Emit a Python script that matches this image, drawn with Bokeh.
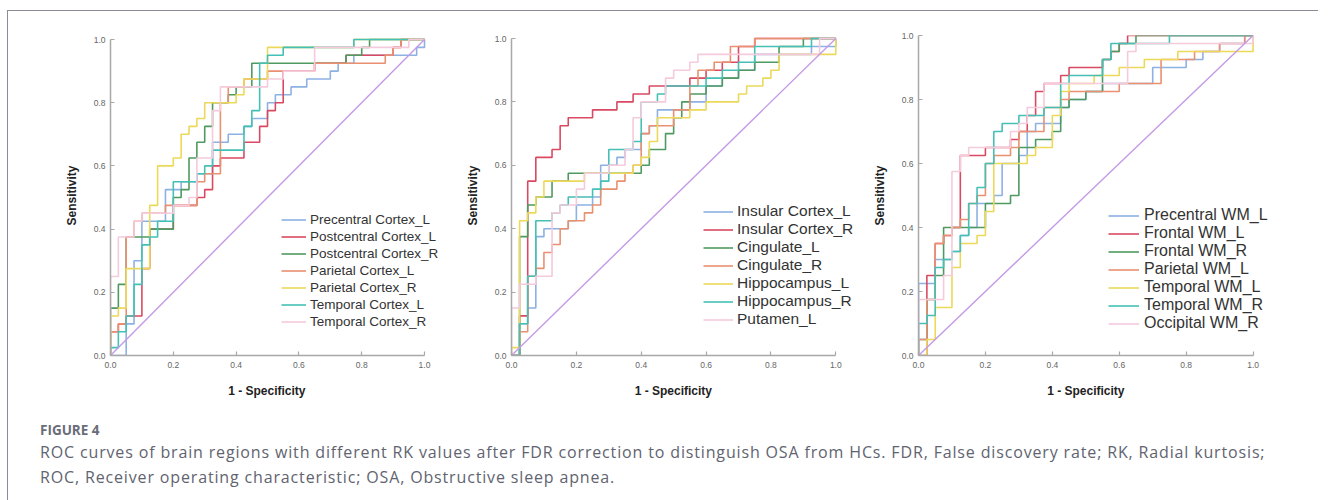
from bokeh.plotting import figure
from bokeh.models import Range1d, Legend, LegendItem, Div, PrintfTickFormatter
from bokeh.layouts import row, column
from bokeh.embed import file_html
from bokeh.resources import INLINE

# ---------------- data ----------------
TICKS = [0.0, 0.2, 0.4, 0.6, 0.8, 1.0]
COLORS = ["#8db1e3", "#d94a62", "#4f9a60", "#e99070", "#ecd95a", "#45c0b4", "#f5cadc"]
DIAG_COLOR = "#c49ae6"

# Panel 1: cortex regions
P1_NAMES = ["Precentral Cortex_L", "Postcentral Cortex_L", "Postcentral Cortex_R",
            "Parietal Cortex_L", "Parietal Cortex_R", "Temporal Cortex_L", "Temporal Cortex_R"]
P1_PRE_L_FPR = [0, 0.05, 0.075, 0.1, 0.175, 0.225, 0.275, 0.325, 0.375, 0.425, 0.45, 0.5, 0.525, 0.575, 0.625, 0.7, 0.725, 0.775, 0.975, 1.0]
P1_PRE_L_TPR = [0, 0.1, 0.3, 0.425, 0.525, 0.55, 0.575, 0.675, 0.7, 0.725, 0.75, 0.8, 0.825, 0.85, 0.875, 0.9, 0.925, 0.95, 0.975, 1.0]
P1_POST_L_FPR = [0, 0.025, 0.05, 0.1, 0.125, 0.2, 0.275, 0.3, 0.325, 0.35, 0.425, 0.475, 0.5, 0.525, 0.55, 0.65, 0.75, 0.9, 0.925, 1.0]
P1_POST_L_TPR = [0.075, 0.1, 0.125, 0.275, 0.4, 0.475, 0.5, 0.525, 0.6, 0.625, 0.675, 0.725, 0.775, 0.8, 0.9, 0.925, 0.95, 0.975, 1.0, 1.0]
P1_POST_R_FPR = [0, 0.025, 0.05, 0.125, 0.2, 0.225, 0.25, 0.275, 0.3, 0.325, 0.375, 0.4, 0.45, 0.75, 0.8, 0.825, 1.0]
P1_POST_R_TPR = [0.15, 0.225, 0.375, 0.4, 0.5, 0.525, 0.625, 0.675, 0.725, 0.8, 0.825, 0.85, 0.925, 0.95, 0.975, 1.0, 1.0]
P1_PAR_L_FPR = [0, 0.025, 0.05, 0.075, 0.1, 0.175, 0.275, 0.3, 0.35, 0.375, 0.425, 0.5, 0.65, 0.875, 0.9, 0.925, 1.0]
P1_PAR_L_TPR = [0.075, 0.1, 0.375, 0.425, 0.45, 0.475, 0.55, 0.575, 0.8, 0.85, 0.875, 0.9, 0.925, 0.95, 0.975, 1.0, 1.0]
P1_PAR_R_FPR = [0, 0.025, 0.05, 0.125, 0.15, 0.2, 0.225, 0.25, 0.275, 0.3, 0.4, 0.425, 0.5, 0.775, 1.0]
P1_PAR_R_TPR = [0.125, 0.15, 0.275, 0.475, 0.6, 0.625, 0.7, 0.725, 0.75, 0.8, 0.825, 0.875, 0.975, 1.0, 1.0]
P1_TEMP_L_FPR = [0, 0.025, 0.05, 0.075, 0.1, 0.125, 0.15, 0.2, 0.275, 0.3, 0.325, 0.425, 0.45, 0.475, 0.5, 0.55, 0.775, 1.0]
P1_TEMP_L_TPR = [0.025, 0.075, 0.125, 0.225, 0.35, 0.375, 0.425, 0.55, 0.575, 0.6, 0.65, 0.725, 0.775, 0.925, 0.95, 0.975, 1.0, 1.0]
P1_TEMP_R_FPR = [0, 0.025, 0.075, 0.1, 0.2, 0.25, 0.275, 0.325, 0.35, 0.5, 0.55, 0.65, 0.95, 1.0]
P1_TEMP_R_TPR = [0.25, 0.375, 0.425, 0.45, 0.475, 0.5, 0.625, 0.775, 0.85, 0.875, 0.9, 0.975, 1.0, 1.0]

# Panel 2: deep / limbic regions
P2_NAMES = ["Insular Cortex_L", "Insular Cortex_R", "Cingulate_L", "Cingulate_R",
            "Hippocampus_L", "Hippocampus_R", "Putamen_L"]
P2_INS_L_FPR = [0, 0.025, 0.05, 0.075, 0.1, 0.175, 0.2, 0.25, 0.275, 0.325, 0.35, 0.4, 0.425, 0.45, 0.55, 0.6, 0.65, 0.7, 0.75, 0.925, 1.0]
P2_INS_L_TPR = [0, 0.1, 0.15, 0.375, 0.4, 0.425, 0.475, 0.5, 0.6, 0.625, 0.65, 0.7, 0.725, 0.775, 0.8, 0.85, 0.875, 0.9, 0.95, 0.975, 1.0]
P2_INS_R_FPR = [0, 0.025, 0.05, 0.075, 0.125, 0.15, 0.175, 0.25, 0.325, 0.375, 0.425, 0.55, 0.6, 0.65, 0.7, 0.75, 1.0]
P2_INS_R_TPR = [0, 0.125, 0.55, 0.625, 0.65, 0.725, 0.75, 0.775, 0.8, 0.825, 0.85, 0.875, 0.9, 0.925, 0.975, 1.0, 1.0]
P2_CING_L_FPR = [0, 0.025, 0.05, 0.075, 0.125, 0.175, 0.4, 0.425, 0.475, 0.5, 0.525, 0.55, 0.6, 0.65, 0.7, 0.75, 0.825, 0.9, 1.0]
P2_CING_L_TPR = [0, 0.375, 0.475, 0.5, 0.55, 0.575, 0.6, 0.65, 0.7, 0.75, 0.8, 0.825, 0.85, 0.875, 0.9, 0.925, 0.975, 1.0, 1.0]
P2_CING_R_FPR = [0, 0.025, 0.05, 0.075, 0.1, 0.125, 0.15, 0.175, 0.225, 0.25, 0.275, 0.325, 0.35, 0.375, 0.4, 0.425, 0.5, 0.55, 0.575, 0.625, 0.675, 0.75, 1.0]
P2_CING_R_TPR = [0, 0.075, 0.25, 0.275, 0.325, 0.35, 0.4, 0.425, 0.45, 0.475, 0.525, 0.55, 0.575, 0.6, 0.7, 0.725, 0.775, 0.85, 0.9, 0.925, 0.975, 1.0, 1.0]
P2_HIP_L_FPR = [0, 0.025, 0.05, 0.075, 0.1, 0.225, 0.375, 0.4, 0.425, 0.45, 0.55, 0.6, 0.7, 0.725, 0.775, 0.8, 0.825, 1.0]
P2_HIP_L_TPR = [0.025, 0.425, 0.45, 0.5, 0.55, 0.575, 0.6, 0.625, 0.675, 0.75, 0.775, 0.8, 0.825, 0.85, 0.875, 0.9, 0.95, 1.0]
P2_HIP_R_FPR = [0, 0.025, 0.05, 0.075, 0.125, 0.15, 0.175, 0.25, 0.275, 0.3, 0.375, 0.4, 0.45, 0.475, 0.6, 0.65, 0.7, 0.75, 0.925, 1.0]
P2_HIP_R_TPR = [0, 0.1, 0.25, 0.425, 0.45, 0.475, 0.5, 0.525, 0.55, 0.65, 0.675, 0.8, 0.825, 0.85, 0.875, 0.9, 0.925, 0.975, 1.0, 1.0]
P2_PUT_L_FPR = [0, 0.025, 0.075, 0.125, 0.15, 0.2, 0.225, 0.3, 0.35, 0.375, 0.4, 0.475, 0.5, 0.55, 0.575, 0.95, 1.0]
P2_PUT_L_TPR = [0.15, 0.225, 0.25, 0.45, 0.475, 0.525, 0.575, 0.6, 0.65, 0.75, 0.8, 0.875, 0.9, 0.925, 0.95, 1.0, 1.0]

# Panel 3: white-matter regions
P3_NAMES = ["Precentral WM_L", "Frontal WM_L", "Frontal WM_R", "Parietal WM_L",
            "Temporal WM_L", "Temporal WM_R", "Occipital WM_R"]
P3_PRE_L_FPR = [0, 0.05, 0.1, 0.125, 0.15, 0.175, 0.225, 0.25, 0.3, 0.325, 0.35, 0.425, 0.45, 0.5, 0.55, 0.7, 0.8, 0.85, 0.9, 0.975, 1.0]
P3_PRE_L_TPR = [0.225, 0.3, 0.325, 0.375, 0.4, 0.475, 0.5, 0.6, 0.625, 0.7, 0.725, 0.775, 0.8, 0.825, 0.85, 0.9, 0.925, 0.95, 0.975, 1.0, 1.0]
P3_FRO_L_FPR = [0, 0.025, 0.05, 0.075, 0.1, 0.125, 0.2, 0.275, 0.3, 0.325, 0.35, 0.375, 0.425, 0.45, 0.55, 0.575, 0.6, 0.625, 1.0]
P3_FRO_L_TPR = [0, 0.25, 0.35, 0.375, 0.4, 0.625, 0.65, 0.675, 0.7, 0.75, 0.825, 0.85, 0.875, 0.9, 0.925, 0.95, 0.975, 1.0, 1.0]
P3_FRO_R_FPR = [0, 0.025, 0.05, 0.075, 0.2, 0.275, 0.3, 0.35, 0.4, 0.425, 0.45, 0.5, 0.55, 0.575, 0.6, 0.65, 1.0]
P3_FRO_R_TPR = [0.05, 0.175, 0.25, 0.4, 0.475, 0.5, 0.65, 0.675, 0.7, 0.775, 0.8, 0.825, 0.925, 0.95, 0.975, 1.0, 1.0]
P3_PAR_L_FPR = [0, 0.025, 0.05, 0.075, 0.1, 0.125, 0.15, 0.175, 0.2, 0.225, 0.275, 0.3, 0.375, 0.425, 0.45, 0.6, 0.725, 0.825, 0.9, 0.975, 1.0]
P3_PAR_L_TPR = [0.05, 0.175, 0.35, 0.375, 0.4, 0.425, 0.475, 0.5, 0.6, 0.625, 0.65, 0.7, 0.775, 0.8, 0.825, 0.85, 0.925, 0.95, 0.975, 1.0, 1.0]
P3_TEM_L_FPR = [0, 0.025, 0.05, 0.1, 0.125, 0.175, 0.2, 0.225, 0.325, 0.35, 0.4, 0.425, 0.45, 0.525, 0.6, 0.675, 0.775, 1.0]
P3_TEM_L_TPR = [0, 0.05, 0.15, 0.275, 0.35, 0.375, 0.45, 0.6, 0.625, 0.65, 0.75, 0.825, 0.85, 0.875, 0.9, 0.925, 0.95, 1.0]
P3_TEM_R_FPR = [0, 0.025, 0.05, 0.075, 0.1, 0.125, 0.15, 0.175, 0.2, 0.225, 0.25, 0.3, 0.375, 0.425, 0.45, 0.55, 0.575, 0.75, 1.0]
P3_TEM_R_TPR = [0.1, 0.125, 0.275, 0.3, 0.325, 0.375, 0.475, 0.525, 0.6, 0.7, 0.725, 0.75, 0.775, 0.85, 0.875, 0.925, 0.975, 1.0, 1.0]
P3_OCC_R_FPR = [0, 0.075, 0.1, 0.125, 0.15, 0.275, 0.3, 0.325, 0.375, 0.625, 0.65, 1.0]
P3_OCC_R_TPR = [0.175, 0.25, 0.575, 0.625, 0.65, 0.7, 0.725, 0.775, 0.85, 0.95, 0.975, 1.0]

P1_CURVES = [(P1_PRE_L_FPR, P1_PRE_L_TPR), (P1_POST_L_FPR, P1_POST_L_TPR), (P1_POST_R_FPR, P1_POST_R_TPR),
             (P1_PAR_L_FPR, P1_PAR_L_TPR), (P1_PAR_R_FPR, P1_PAR_R_TPR), (P1_TEMP_L_FPR, P1_TEMP_L_TPR),
             (P1_TEMP_R_FPR, P1_TEMP_R_TPR)]
P2_CURVES = [(P2_INS_L_FPR, P2_INS_L_TPR), (P2_INS_R_FPR, P2_INS_R_TPR), (P2_CING_L_FPR, P2_CING_L_TPR),
             (P2_CING_R_FPR, P2_CING_R_TPR), (P2_HIP_L_FPR, P2_HIP_L_TPR), (P2_HIP_R_FPR, P2_HIP_R_TPR),
             (P2_PUT_L_FPR, P2_PUT_L_TPR)]
P3_CURVES = [(P3_PRE_L_FPR, P3_PRE_L_TPR), (P3_FRO_L_FPR, P3_FRO_L_TPR), (P3_FRO_R_FPR, P3_FRO_R_TPR),
             (P3_PAR_L_FPR, P3_PAR_L_TPR), (P3_TEM_L_FPR, P3_TEM_L_TPR), (P3_TEM_R_FPR, P3_TEM_R_TPR),
             (P3_OCC_R_FPR, P3_OCC_R_TPR)]

X_LABEL = "1 - Specificity"
Y_LABEL = "Sensitivity"
CAPTION_TITLE = "FIGURE 4"
CAPTION_LINE1 = ("ROC curves of brain regions with different RK values after FDR correction to distinguish OSA from HCs. "
                 "FDR, False discovery rate; RK, Radial kurtosis;")
CAPTION_LINE2 = "ROC, Receiver operating characteristic; OSA, Obstructive sleep apnea."

FONT = "Liberation Sans"
X_END = 1.07   # room on the right of 1.0 so the legend text is not cut
NBSP = "\u00a0"


def make_panel(names, curves, fw, y_end, leg_xy, leg_font, glyph_w, standoff, bl, spacing):
    p = figure(frame_width=int(round(fw * X_END)), frame_height=320, min_border_left=bl, min_border_top=24,
               min_border_bottom=61, min_border_right=10,
               x_range=Range1d(0, X_END), y_range=Range1d(0, y_end),
               output_backend="svg", toolbar_location=None, tools="")
    p.outline_line_color = None
    p.background_fill_color = "white"
    p.border_fill_color = "white"
    p.grid.visible = False
    # keep the x title centred over 0..1 rather than over the padded range
    p.xaxis.axis_label = X_LABEL + NBSP * 7
    p.yaxis.axis_label = Y_LABEL
    p.xaxis.bounds = (0, 1)
    p.yaxis.bounds = (0, 1)
    for ax in (p.xaxis[0], p.yaxis[0]):
        ax.ticker = TICKS
        ax.formatter = PrintfTickFormatter(format="%.1f")
        ax.axis_line_color = "#a8a8a8"
        ax.axis_line_width = 1.5
        ax.major_tick_line_color = "#a8a8a8"
        ax.major_tick_line_width = 1.2
        ax.major_tick_in = 4
        ax.major_tick_out = 0
        ax.minor_tick_line_color = None
        ax.major_label_text_font = FONT
        ax.major_label_text_font_size = "8.5px"
        ax.major_label_text_color = "#666666"
        ax.axis_label_text_font = FONT
        ax.axis_label_text_font_size = "12px"
        ax.axis_label_text_font_style = "bold"
        ax.axis_label_text_color = "#222222"
    p.xaxis.major_label_standoff = 6
    p.xaxis.axis_label_standoff = 13
    p.yaxis.major_label_standoff = 5
    p.yaxis.axis_label_standoff = 12
    items = []
    for name, (fx, ty), col in zip(names, curves, COLORS):
        xs = [0.0] + list(fx)
        ys = [0.0] + list(ty)
        r = p.step(xs, ys, mode="after", line_color=col, line_width=1.6)
        items.append(LegendItem(label=name, renderers=[r]))
    p.line([0, 1], [0, 1], line_color=DIAG_COLOR, line_width=1.4)
    leg = Legend(items=items, location=leg_xy, border_line_color=None,
                 background_fill_alpha=0.0, padding=0, margin=0, spacing=spacing,
                 glyph_width=glyph_w, glyph_height=17, label_height=17,
                 label_standoff=standoff, label_text_font=FONT, label_text_line_height=1.0,
                 label_text_font_size=leg_font, label_text_color="#333333")
    p.add_layout(leg, "center")
    return p


# page content starts at (8, 11); common frame top 35, bottom 355
p1 = make_panel(P1_NAMES, P1_CURVES, 314, 320 / 316, (171, 25), "13.5px", 25, 4, 102, 0)
p2 = make_panel(P2_NAMES, P2_CURVES, 324, 320 / 317, (192, 27), "15.5px", 30, 4, 55, -1)
p3 = make_panel(P3_NAMES, P3_CURVES, 335, 1.0, (190, 23), "16px", 31, 5, 50, -1)

caption = Div(text=(
    f'<div style="font-family: \'Open Sans\', sans-serif; color:#5f6470; padding-left:27px;">'
    f'<div style="font-size:13.5px; font-weight:bold; color:#6a6d78; line-height:19px;">{CAPTION_TITLE}</div>'
    f'<div style="font-size:16px; line-height:24.5px; letter-spacing:0.85px; white-space:nowrap;">'
    f'{CAPTION_LINE1}<br>{CAPTION_LINE2}</div></div>'),
    width=1300, height=80)

layout = column(row(p1, p2, p3), caption,
                styles={"border-top": "1px solid #8c8c99", "border-left": "1px solid #8c8c99",
                        "margin-top": "10px", "margin-left": "7px"})

open("out.html", "w").write(file_html(layout, INLINE))
